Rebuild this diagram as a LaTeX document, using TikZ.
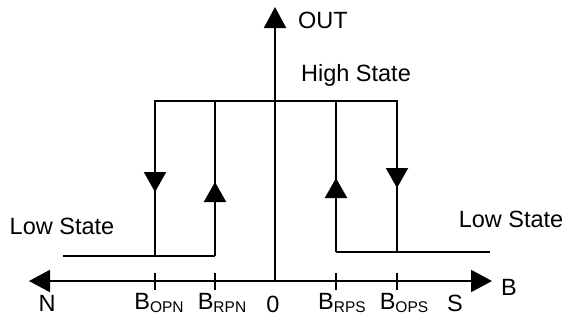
\documentclass[tikz,border=0pt]{standalone}
\usepackage{fontspec}
\setmainfont{Liberation Sans}
\usetikzlibrary{arrows.meta,decorations.markings}

% field label with a lowered subscript, e.g. B_OPN
\newcommand{\fieldlbl}[1]{B\raisebox{-0.12em}{\fontsize{15.5bp}{15.5bp}\selectfont #1}}

\begin{document}
\begin{tikzpicture}[x=1bp,y=-1bp,
  line width=2.1bp,
  axistip/.style={-{Triangle[length=21bp,width=22bp]}},
  lbl/.style={font=\fontsize{23.5bp}{27bp}\selectfont, inner sep=0pt},
  flowmark/.style={postaction={decorate},decoration={markings,
      mark=at position #1 with {\arrow{Triangle[length=20bp,width=22bp]}}}},
]
\useasboundingbox (0,0) rectangle (566,323);

% axes
\coordinate (origin) at (275,281);
\coordinate (xneg) at (29,281);
\coordinate (xpos) at (492,281);
\coordinate (ytop) at (275,7);
\draw[axistip] (origin) -- (xneg);
\draw[axistip] (origin) -- (xpos);
\draw[axistip] (origin) -- (ytop);

% tick marks on the field axis
\foreach \name/\xx in {opn/155,rpn/215,rps/336,ops/397}{
  \coordinate (t\name a) at (\xx,273);
  \coordinate (t\name b) at (\xx,290);
  \draw (t\name a) -- (t\name b);
}

% hysteresis loop corners
\coordinate (lowL0) at (63,256);
\coordinate (opnLow) at (155,256);
\coordinate (rpnLow) at (215,256);
\coordinate (opnHigh) at (155,101);
\coordinate (rpnHigh) at (215,101);
\coordinate (rpsHigh) at (336,101);
\coordinate (opsHigh) at (397,101);
\coordinate (rpsLow) at (336,252);
\coordinate (opsLow) at (397,252);
\coordinate (lowR1) at (490,252);

% low and high state levels
\draw (lowL0) -- (rpnLow);
\draw (rpsLow) -- (lowR1);
\draw[line cap=rect] (opnHigh) -- (opsHigh);

% switching edges with direction marks
\draw[flowmark=91bp] (opnHigh) -- (opnLow);
\draw[flowmark=74bp] (rpnLow) -- (rpnHigh);
\draw[flowmark=74bp] (rpsLow) -- (rpsHigh);
\draw[flowmark=87bp] (opsHigh) -- (opsLow);

% labels
\node[lbl, anchor=west] (outlbl) at (297,20) {OUT};
\node[lbl, anchor=west] (blbl) at (500,287) {B};
\node[lbl] (hslbl) at (356,75) {High State};
\node[lbl] (lslblL) at (62,226) {Low State};
\node[lbl] (lslblR) at (511,219) {Low State};
\node[lbl] (nlbl) at (47,303) {N};
\node[lbl] (slbl) at (455,303) {S};
\node[lbl] (zlbl) at (273,304) {0};
\node[lbl] (opnlbl) at (159,303) {\fieldlbl{OPN}};
\node[lbl] (rpnlbl) at (222,303) {\fieldlbl{RPN}};
\node[lbl] (rpslbl) at (342,303) {\fieldlbl{RPS}};
\node[lbl] (opslbl) at (404,303) {\fieldlbl{OPS}};
\end{tikzpicture}
\end{document}
